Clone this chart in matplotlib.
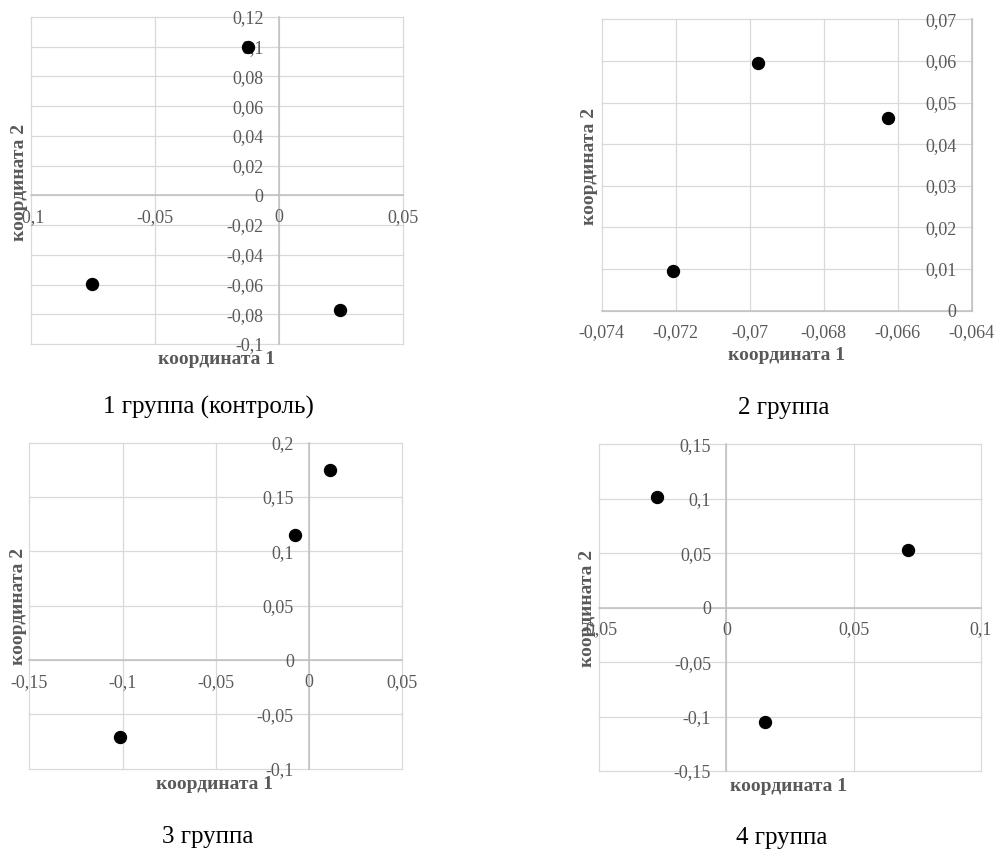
import numpy as np
import matplotlib
matplotlib.use("Agg")
import matplotlib.pyplot as plt
from matplotlib.ticker import FuncFormatter, FixedLocator

# ---------------- data ----------------
titles = ["1 группа (контроль)", "2 группа", "3 группа", "4 группа"]
xlabel_text = "координата 1"
ylabel_text = "координата 2"

g1_x = [-0.0124, -0.0754, 0.0246]
g1_y = [0.100, -0.0595, -0.077]

g2_x = [-0.06977, -0.06625, -0.07208]
g2_y = [0.0596, 0.0464, 0.0096]

g3_x = [0.0111, -0.0075, -0.1016]
g3_y = [0.1747, 0.1151, -0.0712]

g4_x = [-0.0274, 0.0714, 0.0153]
g4_y = [0.102, 0.0533, -0.105]

g1_xticks = [-0.1, -0.05, 0.0, 0.05]
g1_yticks = [-0.1, -0.08, -0.06, -0.04, -0.02, 0.0, 0.02, 0.04, 0.06, 0.08, 0.1, 0.12]
g2_xticks = [-0.074, -0.072, -0.070, -0.068, -0.066, -0.064]
g2_yticks = [0.0, 0.01, 0.02, 0.03, 0.04, 0.05, 0.06, 0.07]
g3_xticks = [-0.15, -0.1, -0.05, 0.0, 0.05]
g3_yticks = [-0.1, -0.05, 0.0, 0.05, 0.1, 0.15, 0.2]
g4_xticks = [-0.05, 0.0, 0.05, 0.1]
g4_yticks = [-0.15, -0.1, -0.05, 0.0, 0.05, 0.1, 0.15]

# ---------------- layout ----------------
W, H = 994, 852
DPI = 100
fig = plt.figure(figsize=(W / DPI, H / DPI), dpi=DPI)
fig.patch.set_facecolor("white")

SERIF = ["Liberation Serif", "DejaVu Serif"]
TICK_COLOR = "#595959"
GRID_COLOR = "#d9d9d9"
AXIS_COLOR = "#bfbfbf"


def fx(px):
    return px / W


def fy(py):
    return 1 - py / H


def fmt(v, pos=None):
    if abs(v) < 1e-12:
        return "0"
    s = f"{round(v, 4):g}"
    return s.replace(".", ",")


panels = [
    dict(box=(31, 17, 403, 344), x=g1_x, y=g1_y, xt=g1_xticks, yt=g1_yticks,
         yaxis_at=0.0, xaxis_at=0.0,
         title=titles[0], title_pos=(208, 414),
         xl_pos=(217, 364), yl_pos=(24, 182)),
    dict(box=(601.7, 19.3, 971.7, 310.7), x=g2_x, y=g2_y, xt=g2_xticks, yt=g2_yticks,
         yaxis_at=-0.064, xaxis_at=0.0,
         title=titles[1], title_pos=(784, 414),
         xl_pos=(786.7, 360.5), yl_pos=(594, 166)),
    dict(box=(29.3, 442.7, 402.3, 768.7), x=g3_x, y=g3_y, xt=g3_xticks, yt=g3_yticks,
         yaxis_at=0.0, xaxis_at=0.0,
         title=titles[2], title_pos=(207.5, 843.3),
         xl_pos=(215, 789.3), yl_pos=(23.3, 606.7)),
    dict(box=(599.3, 444.3, 980.7, 771), x=g4_x, y=g4_y, xt=g4_xticks, yt=g4_yticks,
         yaxis_at=0.0, xaxis_at=0.0,
         title=titles[3], title_pos=(781.5, 844.3),
         xl_pos=(789, 791), yl_pos=(591.7, 608)),
]

for p in panels:
    x0, y0, x1, y1 = p["box"]
    ax = fig.add_axes([fx(x0), fy(y1), (x1 - x0) / W, (y1 - y0) / H])
    ax.set_facecolor("white")
    ax.set_xlim(p["xt"][0], p["xt"][-1])
    ax.set_ylim(p["yt"][0], p["yt"][-1])
    ax.xaxis.set_major_locator(FixedLocator(p["xt"]))
    ax.yaxis.set_major_locator(FixedLocator(p["yt"]))
    ax.xaxis.set_major_formatter(FuncFormatter(fmt))
    ax.yaxis.set_major_formatter(FuncFormatter(fmt))

    # gridlines (including the plot-area edges)
    for xv in p["xt"]:
        ax.axvline(xv, color=GRID_COLOR, lw=0.9, zorder=0.5, clip_on=False)
    for yv in p["yt"]:
        ax.axhline(yv, color=GRID_COLOR, lw=0.9, zorder=0.5, clip_on=False)

    for side in ("top", "right"):
        ax.spines[side].set_visible(False)
    ax.spines["left"].set_position(("data", p["yaxis_at"]))
    ax.spines["bottom"].set_position(("data", p["xaxis_at"]))
    for side in ("left", "bottom"):
        ax.spines[side].set_color(AXIS_COLOR)
        ax.spines[side].set_linewidth(1.1)
        ax.spines[side].set_zorder(0.8)

    ax.tick_params(axis="both", length=0, labelsize=13, labelcolor=TICK_COLOR)
    ax.tick_params(axis="y", pad=11)
    ax.tick_params(axis="x", pad=10)
    for lab in ax.get_xticklabels() + ax.get_yticklabels():
        lab.set_fontfamily(SERIF)

    ax.plot(p["x"], p["y"], linestyle="none", marker="o", markersize=8.6,
            color="black", zorder=2)

    # axis titles
    fig.text(fx(p["xl_pos"][0]), fy(p["xl_pos"][1]), xlabel_text,
             ha="center", va="baseline", fontsize=14, fontweight="bold",
             color=TICK_COLOR, family=SERIF)
    fig.text(fx(p["yl_pos"][0]), fy(p["yl_pos"][1]), ylabel_text,
             ha="center", va="baseline", rotation=90, rotation_mode="anchor",
             fontsize=14, fontweight="bold", color=TICK_COLOR, family=SERIF)
    # group caption
    fig.text(fx(p["title_pos"][0]), fy(p["title_pos"][1]), p["title"],
             ha="center", va="baseline", fontsize=18, color="black", family=SERIF)

fig.savefig("out.png", dpi=DPI, facecolor="white")
